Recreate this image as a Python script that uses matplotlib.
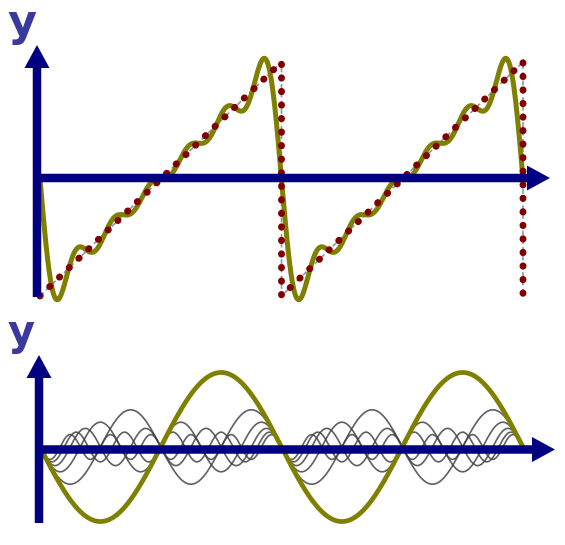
import numpy as np
import matplotlib
matplotlib.use("Agg")
import matplotlib.pyplot as plt
from matplotlib.patches import FancyArrow

# ---- data ----
harmonic_k = [1, 2, 3, 4, 5, 6]
harmonic_amp = [0.637, -0.318, 0.212, -0.159, 0.127, -0.106]
saw_t = [-np.pi, np.pi, np.pi, 3 * np.pi, 3 * np.pi]
saw_y = [-1.0, 1.0, -1.0, 1.0, -1.0]
axis_label = "y"

NAVY = "#000080"
OLIVE = "#808000"
DARKRED = "#800000"

W, H, DPI = 565, 545, 100
fig = plt.figure(figsize=(W / DPI, H / DPI), dpi=DPI)

# pixel mapping helpers
px_per_unit_x = 483 / (4 * np.pi)
x_left = -np.pi - 40 / px_per_unit_x
x_right = x_left + W / px_per_unit_x
unit_y = 117.0


def make_axes(zero_px):
    ax = fig.add_axes([0, 0, 1, 1])
    ax.set_xlim(x_left, x_right)
    ax.set_ylim(-(H - zero_px) / unit_y, zero_px / unit_y)
    ax.axis("off")
    ax.patch.set_alpha(0)
    return ax


t = np.linspace(-np.pi, 3 * np.pi, 2000)

# ---- top panel ----
ax_top = make_axes(179)
partial = np.zeros_like(t)
for k, a in zip(harmonic_k, harmonic_amp):
    partial += a * np.sin(k * t)
ax_top.plot(saw_t, saw_y, color="#8a9aaa", lw=1.2, ls=(0, (3, 2)), zorder=1)
ax_top.plot(t, partial, color=OLIVE, lw=3.6, zorder=4, solid_capstyle="round")
ax_top.plot(saw_t, saw_y, color=DARKRED, lw=5.0, ls=(0, (0.05, 1.9)),
            dash_capstyle="round", zorder=5)

# ---- bottom panel ----
ax_bot = make_axes(447)
for k, a in zip(harmonic_k[1:], harmonic_amp[1:]):
    ax_bot.plot(t, a * np.sin(k * t), color="#444444", lw=1.2, alpha=0.85, zorder=1)
ax_bot.plot(t, harmonic_amp[0] * np.sin(harmonic_k[0] * t), color=OLIVE, lw=3.4, zorder=4)

# ---- axis arrows & labels (pixel overlay) ----
ov = fig.add_axes([0, 0, 1, 1])
ov.set_xlim(0, W)
ov.set_ylim(H, 0)
ov.axis("off")
ov.patch.set_alpha(0)
arrows = [
    (37, 297, 0, -252),
    (34, 178, 516, 0),
    (39, 523, 0, -168),
    (36, 449.5, 519, 0),
]
for x, y, dx, dy in arrows:
    ov.add_patch(FancyArrow(x, y, dx, dy, width=8.5, head_width=25, head_length=23,
                            length_includes_head=True, color=NAVY, lw=0, zorder=3))
ov.text(21.5, 36, axis_label, fontsize=32, fontweight="bold", color="#3a3a9c",
        ha="center", va="baseline", family="DejaVu Sans")
ov.text(21.5, 345, axis_label, fontsize=30, fontweight="bold", color="#3a3a9c",
        ha="center", va="baseline", family="DejaVu Sans")

fig.savefig("out.png", dpi=DPI, facecolor="white")
